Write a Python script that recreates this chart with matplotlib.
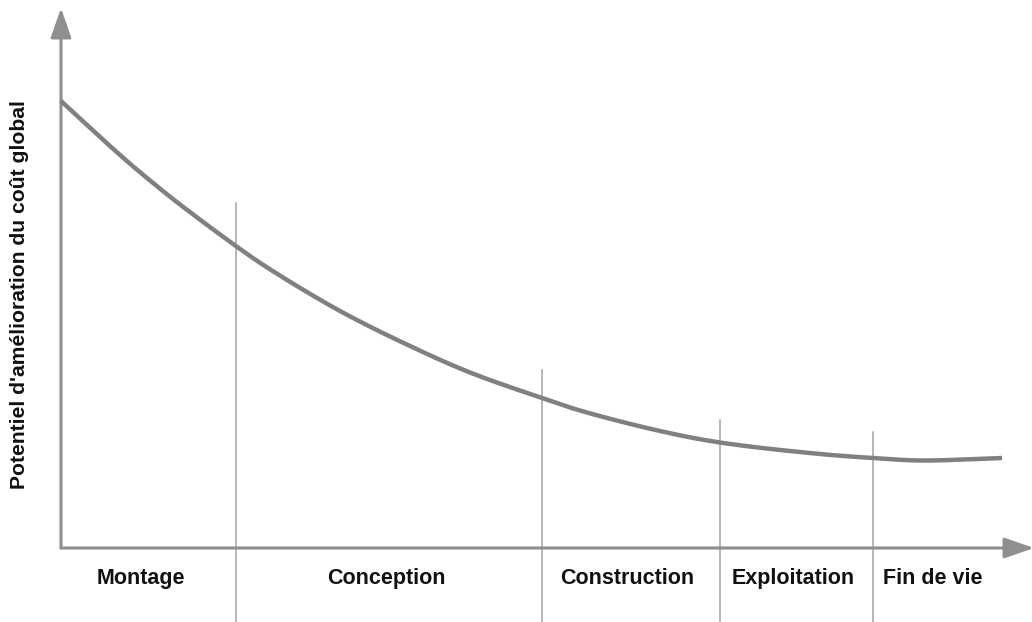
import matplotlib
matplotlib.use("Agg")
import matplotlib.pyplot as plt
import numpy as np

# Curve: potential for improvement of global cost vs. project time
curve_x = [0, 59, 89, 119, 177, 209, 279, 349, 409, 481, 519, 599, 659, 759, 812, 859, 941]
curve_y = [447, 393, 367.5, 343.5, 300.5, 278.7, 237, 202, 175.5, 150, 137.5, 117, 105.5, 94, 90, 87.5, 90]

# Phase boundaries (x position, top of separator line)
boundary_x = [175, 481, 659, 812]
boundary_top = [345, 178, 128, 116]

# Phase labels and their centres
phases = ["Montage", "Conception", "Construction", "Exploitation", "Fin de vie"]
phase_x = [80, 325, 566, 732, 872]

ylabel = "Potentiel d'amélioration du coût global"

plt.rcParams['font.family'] = ['Liberation Sans', 'DejaVu Sans']


def smooth(xs, ys, n=24):
    """Centripetal Catmull-Rom rendering through the read points."""
    p = np.column_stack([xs, ys]).astype(float)
    p = np.vstack([p[0] * 2 - p[1], p, p[-1] * 2 - p[-2]])
    out = []
    for i in range(1, len(p) - 2):
        p0, p1, p2, p3 = p[i - 1], p[i], p[i + 1], p[i + 2]
        t0 = 0.0
        t1 = t0 + np.linalg.norm(p1 - p0) ** 0.5
        t2 = t1 + np.linalg.norm(p2 - p1) ** 0.5
        t3 = t2 + np.linalg.norm(p3 - p2) ** 0.5
        t = np.linspace(t1, t2, n, endpoint=False)[:, None]
        a1 = (t1 - t) / (t1 - t0) * p0 + (t - t0) / (t1 - t0) * p1
        a2 = (t2 - t) / (t2 - t1) * p1 + (t - t1) / (t2 - t1) * p2
        a3 = (t3 - t) / (t3 - t2) * p2 + (t - t2) / (t3 - t2) * p3
        b1 = (t2 - t) / (t2 - t0) * a1 + (t - t0) / (t2 - t0) * a2
        b2 = (t3 - t) / (t3 - t1) * a2 + (t - t1) / (t3 - t1) * a3
        c = (t2 - t) / (t2 - t1) * b1 + (t - t1) / (t2 - t1) * b2
        out.append(c)
    out.append(p[-2][None, :])
    out = np.vstack(out)
    return out[:, 0], out[:, 1]


fig = plt.figure(figsize=(10.32, 6.22), dpi=100)
ax = fig.add_axes([0, 0, 1, 1])
ax.set_xlim(-61, 971)
ax.set_ylim(-74, 548)
ax.axis('off')

axis_col = '#8f8f8f'
# separators
for bx, bt in zip(boundary_x, boundary_top):
    ax.plot([bx, bx], [-74, bt], color='#a3a3a3', lw=1.1, zorder=1)

# axes with arrows
arrow = dict(arrowstyle='-|>,head_length=1.3,head_width=0.45', mutation_scale=14,
             lw=2.2, color=axis_col, shrinkA=0, shrinkB=0)
ax.annotate('', xy=(0, 540), xytext=(0, 0), arrowprops=arrow, zorder=2,
            annotation_clip=False)
ax.annotate('', xy=(973, 0), xytext=(0, 0), arrowprops=arrow, zorder=2,
            annotation_clip=False)

# curve
sx, sy = smooth(curve_x, curve_y)
ax.plot(sx, sy, color='#808080', lw=3.2, solid_capstyle='butt',
        solid_joinstyle='round', zorder=3)

for name, px in zip(phases, phase_x):
    ax.text(px, -36, name, ha='center', va='baseline', fontsize=15.5,
            fontweight='bold', color='#111111')

ax.text(-41, 253, ylabel, rotation=90, ha='center', va='center', fontsize=15.2,
        fontweight='bold', color='#111111')

fig.savefig('out.png', dpi=100)
